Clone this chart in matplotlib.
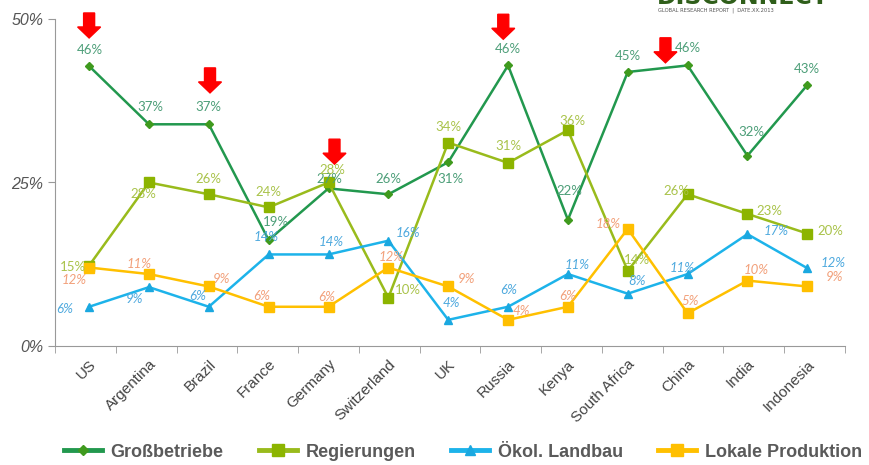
import matplotlib
matplotlib.use('Agg')
import matplotlib.pyplot as plt
from matplotlib.lines import Line2D
from matplotlib.patches import Polygon
from matplotlib.transforms import IdentityTransform
import numpy as np

# data
countries = ['US', 'Argentina', 'Brazil', 'France', 'Germany', 'Switzerland', 'UK',
             'Russia', 'Kenya', 'South Africa', 'China', 'India', 'Indonesia']

# plotted positions (in %)
gross = [42.8, 33.9, 33.9, 16.2, 24.1, 23.2, 28.1, 42.9, 19.3, 41.9, 42.9, 29.1, 39.9]
regierungen = [12.3, 25.0, 23.2, 21.2, 25.0, 7.4, 31.1, 28.0, 33.0, 11.5, 23.2, 20.2, 17.2]
oekol = [6.0, 9.0, 6.0, 14.0, 14.0, 16.1, 4.0, 6.0, 11.0, 8.0, 11.0, 17.1, 11.9]
lokal = [12.0, 11.0, 9.1, 6.0, 6.0, 12.0, 9.1, 4.0, 6.0, 17.9, 5.0, 10.0, 9.1]

# value labels printed on the chart
gross_lbl = [46, 37, 37, 19, 27, 26, 31, 46, 22, 45, 46, 32, 43]
regierungen_lbl = [15, 28, 26, 24, 28, 10, 34, 31, 36, 14, 26, 23, 20]
oekol_lbl = [6, 9, 6, 14, 14, 16, 4, 6, 11, 8, 11, 17, 12]
lokal_lbl = [12, 11, 9, 6, 6, 12, 9, 4, 6, 18, 5, 10, 9]

series_names = ['Großbetriebe', 'Regierungen', 'Ökol. Landbau', 'Lokale Produktion']

# label offsets in pixels (dx, dy)
gross_off = [(1, 16), (1, 17), (0, 17), (7, 18), (1, 9), (0, 15), (2, -17), (0, 16),
             (1, 29), (0, 16), (0, 17), (4, 24), (0, 16)]
reg_off = [(-16, -1), (-6, -11), (0, 15), (0, 15), (4, 13), (20, 8), (0, 16), (0, 17),
           (5, 9), (9, 11), (-11, 3), (22, 3), (23, 3)]
oek_off = [(-24, -2), (-14, -12), (-11, 11), (-2, 17), (3, 12), (20, 8), (3, 17), (1, 17),
           (9, 9), (9, 13), (-5, 6), (29, 3), (26, 5)]
lok_off = [(-15, -12), (-10, 10), (13, 7), (-7, 11), (-2, 10), (3, 11), (18, 7), (13, 9),
           (0, 11), (-20, 5), (3, 12), (9, 11), (27, 9)]

# red arrows: (x in category units, tip y in %)
arrows = [(0.0, 47.1), (2.02, 38.7), (4.1, 27.8), (6.92, 46.9), (9.63, 43.3)]

fig = plt.figure(figsize=(8.7, 4.65), dpi=100)
ax = fig.add_axes([55 / 870, 1 - 346 / 465, 790 / 870, 327 / 465])

x = np.arange(len(countries))

styles = [
    (gross, gross_lbl, gross_off, '#22984e', '#3f9a1e', 'D', 4, '#4c9e78', 'normal'),
    (regierungen, regierungen_lbl, reg_off, '#99bb1c', '#8cb400', 's', 7, '#a9c34a', 'normal'),
    (oekol, oekol_lbl, oek_off, '#1db3ea', '#1aa8e0', '^', 6, '#4ea9de', 'italic'),
    (lokal, lokal_lbl, lok_off, '#ffc000', '#ffbf00', 's', 7, '#f2a07a', 'italic'),
]

handles = []
for (vals, lbls, offs, lc, mc, mk, ms, tc, fs), name in zip(styles, series_names):
    ax.plot(x, vals, color=lc, lw=1.8, marker=mk, markersize=ms,
            markerfacecolor=mc, markeredgecolor=mc, zorder=3)
    for xi, v, l, (dx, dy) in zip(x, vals, lbls, offs):
        ax.annotate(f'{l}%', xy=(xi, v), xytext=(dx, dy), textcoords='offset pixels',
                    ha='center', va='center', fontsize=9.5, color=tc, style=fs,
                    family='Lato', annotation_clip=False, zorder=4)
    handles.append(Line2D([], [], color=lc, lw=3.5, marker=mk, markersize=ms + 1,
                          markerfacecolor=mc, markeredgecolor=mc, label=name))

ax.set_xlim(-0.57, 12.63)
ax.set_ylim(0, 50)
ax.set_yticks([0, 25, 50])
ax.set_yticklabels(['0%', '25%', '50%'], fontsize=11.5, style='italic', color='#555555',
                   family='Liberation Sans')
ax.set_xticks(x)
ax.set_xticklabels(countries, rotation=45, ha='right', rotation_mode='anchor',
                   fontsize=11, color='#444444', family='Liberation Sans')
ax.tick_params(axis='x', which='major', length=0, pad=8)
ax.set_xticks(np.linspace(-0.57, 12.63, 14), minor=True)
ax.tick_params(axis='x', which='minor', length=5, color='#999999', direction='out')
ax.tick_params(axis='y', length=5, color='#999999', direction='out')
for s in ['top', 'right']:
    ax.spines[s].set_visible(False)
for s in ['left', 'bottom']:
    ax.spines[s].set_color('#999999')

# red arrows
fig.canvas.draw()
for ax_x, ax_y in arrows:
    px, py = ax.transData.transform((ax_x, ax_y))
    shape = [(0, 0), (-11.5, 11), (-5.5, 11), (-5.5, 25), (5.5, 25), (5.5, 11), (11.5, 11)]
    poly = Polygon([(px + a, py + b) for a, b in shape], closed=True, color='#ff0000',
                   transform=IdentityTransform(), zorder=10)
    fig.add_artist(poly)

# logo at the top right (cut off by the frame)
fig.text(657 / 870, 1 - 4 / 465, 'DISCONNECT', fontsize=17, fontweight='bold',
         color='#2f5e1a', ha='left', va='baseline', family='DejaVu Sans')
fig.text(658 / 870, 1 - 10 / 465, 'GLOBAL RESEARCH REPORT  |  DATE.XX.2013', fontsize=3.7,
         color='#555555', ha='left', va='center')

fig.legend(handles=handles, loc='center', bbox_to_anchor=(463 / 870, 1 - 452 / 465),
           ncol=4, frameon=False, handlelength=2.1, handletextpad=0.5, columnspacing=1.95,
           prop={'family': 'Liberation Sans', 'weight': 'bold', 'size': 13},
           labelcolor='#5a5a5a')

plt.savefig('out.png', dpi=100)
